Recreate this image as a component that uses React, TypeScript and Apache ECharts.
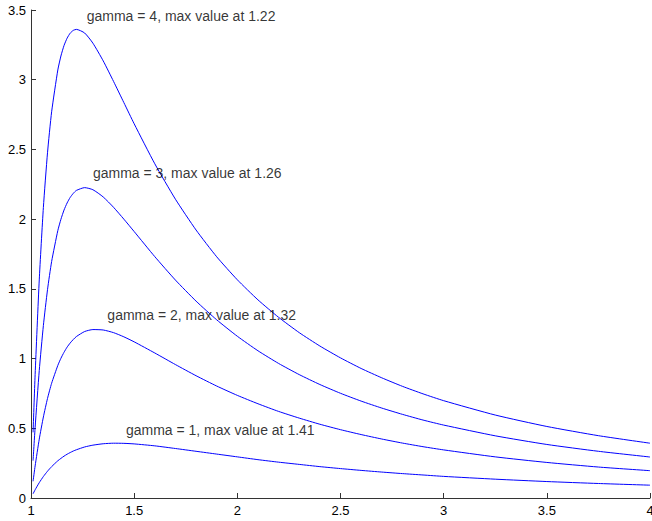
import React, { useEffect, useRef } from "react";
import * as echarts from "echarts";

// Sample x positions
const xs = [1.01, 1.02, 1.04, 1.06, 1.08, 1.1, 1.13, 1.145, 1.16, 1.175, 1.19, 1.205, 1.22, 1.26, 1.3, 1.35, 1.4, 1.45, 1.5, 1.6, 1.7, 1.8, 1.9, 2.0, 2.1, 2.2, 2.3, 2.4, 2.5, 2.6, 2.7, 2.8, 2.9, 3.0, 3.25, 3.5, 3.75, 4.0];

// Curve values (gamma = 1..4)
const gamma1 = [0.030, 0.059, 0.110, 0.154, 0.192, 0.225, 0.267, 0.284, 0.300, 0.314, 0.326, 0.337, 0.346, 0.366, 0.379, 0.389, 0.393, 0.392, 0.388, 0.374, 0.355, 0.335, 0.315, 0.295, 0.275, 0.257, 0.241, 0.225, 0.211, 0.198, 0.186, 0.175, 0.165, 0.155, 0.135, 0.118, 0.104, 0.092];
const gamma2 = [0.120, 0.230, 0.422, 0.581, 0.714, 0.823, 0.951, 1.002, 1.045, 1.082, 1.112, 1.137, 1.158, 1.194, 1.208, 1.205, 1.186, 1.156, 1.120, 1.040, 0.957, 0.877, 0.803, 0.736, 0.676, 0.621, 0.573, 0.529, 0.490, 0.455, 0.423, 0.394, 0.368, 0.345, 0.295, 0.255, 0.222, 0.196];
const gamma3 = [0.268, 0.507, 0.914, 1.237, 1.494, 1.696, 1.918, 1.999, 2.065, 2.116, 2.156, 2.185, 2.206, 2.226, 2.211, 2.159, 2.085, 2.000, 1.911, 1.731, 1.563, 1.412, 1.278, 1.160, 1.056, 0.965, 0.885, 0.814, 0.751, 0.695, 0.645, 0.600, 0.559, 0.523, 0.446, 0.384, 0.335, 0.294];
const gamma4 = [0.471, 0.885, 1.564, 2.084, 2.476, 2.770, 3.070, 3.170, 3.245, 3.298, 3.334, 3.354, 3.361, 3.335, 3.262, 3.135, 2.988, 2.836, 2.684, 2.397, 2.143, 1.922, 1.730, 1.565, 1.421, 1.296, 1.186, 1.090, 1.005, 0.929, 0.862, 0.801, 0.747, 0.698, 0.595, 0.513, 0.447, 0.393];

// Annotations
const labelTexts = [
  "gamma = 4, max value at 1.22",
  "gamma = 3, max value at 1.26",
  "gamma = 2, max value at 1.32",
  "gamma = 1, max value at 1.41",
];
const labelX = [1.27, 1.3, 1.37, 1.46];
const labelY = [3.46, 2.33, 1.31, 0.49];

const curves = [gamma1, gamma2, gamma3, gamma4];

export default function App() {
  const ref = useRef<HTMLDivElement>(null);

  useEffect(() => {
    if (!ref.current) return;
    const chart = echarts.init(ref.current, undefined, { renderer: "svg" });
    const axisColor = "#333333";
    const tickFont = {
      color: "#000000",
      fontFamily: "Liberation Sans, Arial, Helvetica, sans-serif",
      fontSize: 13,
    };
    chart.setOption({
      animation: false,
      backgroundColor: "#ffffff",
      grid: {
        left: 31,
        right: 2,
        top: 10,
        bottom: 23,
        containLabel: false,
        outerBoundsMode: "none",
      },
      xAxis: {
        type: "value",
        min: 1,
        max: 4,
        interval: 0.5,
        axisLine: { show: true, onZero: false, lineStyle: { color: axisColor, width: 1 } },
        axisTick: { show: true, inside: true, length: 5, lineStyle: { color: axisColor } },
        axisLabel: { ...tickFont, margin: 6, showMaxLabel: true, showMinLabel: true },
        splitLine: { show: false },
      },
      yAxis: {
        type: "value",
        min: 0,
        max: 3.5,
        interval: 0.5,
        axisLine: { show: true, onZero: false, lineStyle: { color: axisColor, width: 1 } },
        axisTick: { show: true, inside: true, length: 5, lineStyle: { color: axisColor } },
        axisLabel: { ...tickFont, margin: 5 },
        splitLine: { show: false },
      },
      series: [
        ...curves.map((ys, i) => ({
          type: "line",
          name: "gamma" + (i + 1),
          data: xs.map((x, j) => [x, ys[j]]),
          showSymbol: false,
          symbol: "none",
          smooth: 0.2,
          lineStyle: { color: "#0000ff", width: 1 },
          z: 2,
        })),
        {
          type: "scatter",
          symbolSize: 0,
          data: labelX.map((x, i) => [x, labelY[i]]),
          itemStyle: { color: "transparent" },
          label: {
            show: true,
            position: "right",
            distance: 0,
            formatter: (p: any) => labelTexts[p.dataIndex],
            color: "#000000",
            fontFamily: "Liberation Sans, Arial, Helvetica, sans-serif",
            fontSize: 14,
          },
          z: 3,
        },
      ],
    });
    return () => chart.dispose();
  }, []);

  return (
    <div
      ref={ref}
      style={{ position: "fixed", left: 0, top: 0, width: 652, height: 521, background: "#fff" }}
    />
  );
}
